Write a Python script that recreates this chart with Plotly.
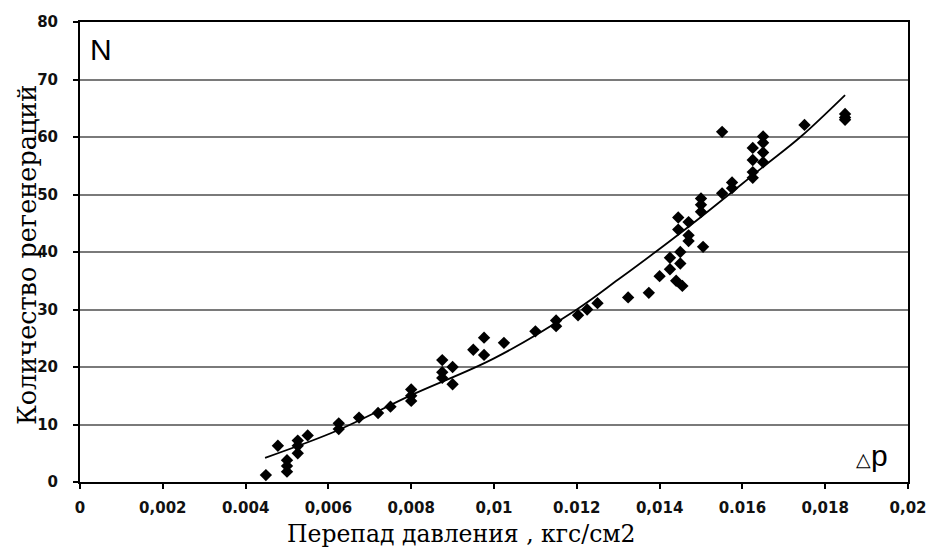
import plotly.graph_objects as go

# Measured points: pressure drop (kgf/cm2) vs number of regenerations
dp = [0.00449, 0.00478, 0.00500, 0.00500, 0.00500, 0.00526, 0.00526, 0.00526,
      0.00550, 0.00625, 0.00625, 0.00674, 0.00720, 0.00750, 0.00800, 0.00800,
      0.00800, 0.00875, 0.00875, 0.00875, 0.00900, 0.00900, 0.00950, 0.00976,
      0.00976, 0.01024, 0.01100, 0.01150, 0.01150, 0.01203, 0.01225, 0.01250,
      0.01324, 0.01374, 0.01400, 0.01425, 0.01425, 0.01440, 0.01455, 0.01450,
      0.01450, 0.01445, 0.01445, 0.01470, 0.01470, 0.01470, 0.01505, 0.01500,
      0.01500, 0.01500, 0.01551, 0.01551, 0.01575, 0.01575, 0.01625, 0.01625,
      0.01625, 0.01625, 0.01650, 0.01650, 0.01650, 0.01650, 0.01750, 0.01848,
      0.01848, 0.01848]
n_regen = [1.2, 6.3, 3.8, 2.8, 1.8, 7.2, 6.3, 5.0,
           8.1, 10.2, 9.2, 11.2, 12.0, 13.1, 16.1, 15.0,
           14.1, 21.2, 19.1, 18.1, 20.0, 17.0, 23.0, 25.1,
           22.1, 24.2, 26.2, 28.1, 27.1, 29.0, 30.0, 31.1,
           32.1, 32.9, 35.8, 39.0, 37.0, 35.0, 34.1, 40.0,
           38.0, 46.0, 43.9, 45.2, 42.9, 41.9, 40.9, 49.3,
           48.2, 47.0, 60.9, 50.2, 52.1, 51.1, 58.1, 56.0,
           53.9, 52.9, 60.1, 59.0, 57.3, 55.6, 62.1, 64.0,
           63.4, 63.0]

# Trend line
trend_x = [0.00447, 0.00623, 0.00800, 0.01000, 0.01200, 0.01300, 0.01390,
           0.01500, 0.01650, 0.01740, 0.01848]
trend_y = [4.2, 9.0, 15.1, 21.5, 30.0, 35.2, 40.0, 46.1, 54.8, 60.0, 67.3]

x_tickvals = [0, 0.002, 0.004, 0.006, 0.008, 0.01, 0.012, 0.014, 0.016, 0.018, 0.02]
x_ticktext = ["0", "0,002", "0.004", "0,006", "0,008", "0,01", "0.012", "0,014",
              "0.016", "0,018", "0,02"]
y_tickvals = [0, 10, 20, 30, 40, 50, 60, 70, 80]

fig = go.Figure()
fig.add_trace(go.Scatter(x=trend_x, y=trend_y, mode="lines",
                         line=dict(color="black", width=1.8, shape="spline", smoothing=1.0),
                         showlegend=False, hoverinfo="skip"))
fig.add_trace(go.Scatter(x=dp, y=n_regen, mode="markers",
                         marker=dict(symbol="diamond", size=9.5, color="black"),
                         showlegend=False))

tickfont = dict(family="DejaVu Sans", size=15, color="#111", weight="bold")

fig.update_xaxes(range=[0, 0.02], tickvals=x_tickvals, ticktext=x_ticktext,
                 ticks="outside", ticklen=5, tickwidth=2, tickcolor="black",
                 showline=True, linecolor="black", linewidth=2, mirror=True,
                 showgrid=False, zeroline=False, tickfont=tickfont,
                 ticklabelstandoff=6, automargin=False)
fig.update_yaxes(range=[0, 80], tickvals=y_tickvals,
                 ticks="outside", ticklen=5, tickwidth=2, tickcolor="black",
                 showline=True, linecolor="black", linewidth=2, mirror=True,
                 showgrid=True, gridcolor="#7a7a7a", gridwidth=1.5,
                 zeroline=False, tickfont=tickfont, ticklabelstandoff=12,
                 automargin=False)

fig.add_annotation(text="Перепад давления , кгс/см2", xref="paper", yref="paper",
                   x=(461 - 80) / 828, y=-(534 - 482) / 460, showarrow=False,
                   font=dict(family="DejaVu Serif", size=23.5, color="black"),
                   xanchor="center", yanchor="middle")
fig.add_annotation(text="Количество регенераций", xref="paper", yref="paper",
                   x=-(80 - 27) / 828, y=(482 - 255) / 460, showarrow=False,
                   textangle=-90,
                   font=dict(family="DejaVu Serif", size=25.5, color="black"),
                   xanchor="center", yanchor="middle")
fig.add_annotation(text="N", xref="paper", yref="paper",
                   x=(101 - 80) / 828, y=(482 - 50) / 460, showarrow=False,
                   font=dict(family="Liberation Sans", size=30, color="black"),
                   xanchor="center", yanchor="middle")
fig.add_annotation(text="<span style='font-size:19px'>△</span>p", xref="paper", yref="paper",
                   x=(872 - 80) / 828, y=(482 - 455) / 460, showarrow=False,
                   font=dict(family="Liberation Sans", size=30, color="black"),
                   xanchor="center", yanchor="middle")

fig.update_layout(width=927, height=548, margin=dict(l=80, r=19, t=22, b=66),
                  plot_bgcolor="white", paper_bgcolor="white")

fig.write_html("out.html")
